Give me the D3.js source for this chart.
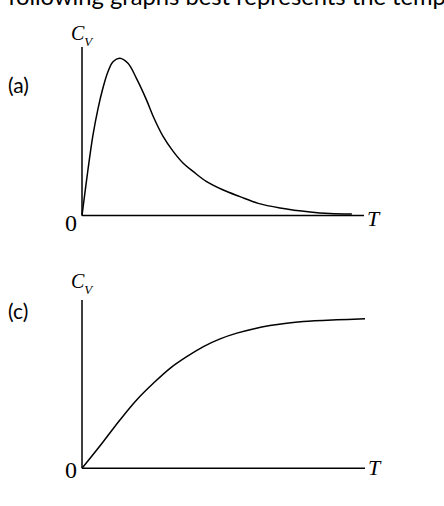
<!DOCTYPE html>
<html>
<head>
  <meta charset="utf-8">
  <title>Cv vs T</title>
  <style>
    body { margin: 0; background: #fff; }
    svg { display: block; }
    .axis-line { stroke: #000; stroke-width: 1.5; }
    .curve { fill: none; stroke: #000; stroke-width: 1.5; }
    .serif { font-family: "Liberation Serif", "DejaVu Serif", serif; fill: #000; }
    .sans { font-family: Lato, "Open Sans", sans-serif; fill: #000; }
  </style>
</head>
<body>
<script src="https://cdn.jsdelivr.net/npm/d3@7"></script>
<script>
  const width = 444;
  const height = 506;

  // T and Cv both in 0..100 units
  const tA  = [0, 2.1, 3.9, 5.7, 7.4, 9.2, 11.0, 13.4, 16.3, 19.3, 22.9, 25.3, 28.8, 32.4, 35.9, 39.5, 44.2, 50.1, 56.0, 62.5, 70.2, 80.9, 87.9, 95.7];
  const cvA = [0, 27.0, 47.8, 63.6, 75.5, 85.3, 91.3, 93.3, 90.3, 81.4, 68.5, 58.6, 46.8, 37.9, 31.0, 26.0, 20.1, 15.1, 11.2, 7.2, 4.5, 2.1, 1.2, 0.9];

  const tC  = [0, 7.5, 13.4, 19.3, 25.2, 31.1, 37.0, 42.9, 48.8, 54.7, 60.5, 66.4, 72.3, 78.2, 90.0, 100];
  const cvC = [0, 15.8, 28.7, 40.6, 50.5, 59.4, 66.3, 72.3, 76.9, 80.3, 82.8, 84.8, 86.2, 87.2, 88.2, 88.8];

  const headline = "following graphs best represents the temp";

  const panels = [
    { name: "(a)", t: tA, cv: cvA, x0: 82, x1: 364, y0: 215.5, y1: 47,
      labelY: 93, cY: 40, zeroY: 231, tY: 226 },
    { name: "(c)", t: tC, cv: cvC, x0: 82, x1: 365, y0: 468.3, y1: 300,
      labelY: 319, cY: 288, zeroY: 478, tY: 475 }
  ];

  const svg = d3.select("body").append("svg")
    .attr("width", width)
    .attr("height", height);

  // clipped question text at the very top
  const head = svg.append("text")
    .attr("class", "sans")
    .attr("x", 8)
    .attr("y", 5)
    .attr("font-size", 20)
    .text(headline);
  const len = head.node().getComputedTextLength();
  head.attr("font-size", 20 * 438 / len);

  panels.forEach(p => {
    const x = d3.scaleLinear().domain([0, 100]).range([p.x0, p.x1]);
    const y = d3.scaleLinear().domain([0, 100]).range([p.y0, p.y1]);
    const g = svg.append("g");

    g.append("line").attr("class", "axis-line")
      .attr("x1", x(0)).attr("x2", x(0))
      .attr("y1", y(0)).attr("y2", y(100));
    g.append("line").attr("class", "axis-line")
      .attr("x1", x(0)).attr("x2", x(100))
      .attr("y1", y(0)).attr("y2", y(0));

    const pts = p.t.map((t, i) => [t, p.cv[i]]);
    const line = d3.line()
      .x(d => x(d[0]))
      .y(d => y(d[1]))
      .curve(d3.curveCatmullRom.alpha(0.5));
    g.append("path").attr("class", "curve").attr("d", line(pts));

    g.append("text").attr("class", "sans")
      .attr("x", 8).attr("y", p.labelY)
      .attr("font-size", 21)
      .text(p.name);

    g.append("text").attr("class", "serif")
      .attr("x", x(0) - 5).attr("y", p.zeroY)
      .attr("text-anchor", "end")
      .attr("font-size", 24)
      .text("0");

    g.append("text").attr("class", "serif")
      .attr("x", x(100) + 3).attr("y", p.tY)
      .attr("font-size", 22)
      .attr("font-style", "italic")
      .text("T");

    const cv = g.append("text").attr("class", "serif")
      .attr("x", x(0) - 11).attr("y", p.cY)
      .attr("font-size", 20)
      .attr("font-style", "italic");
    cv.append("tspan").text("C");
    cv.append("tspan")
      .attr("font-size", 13)
      .attr("dy", 6)
      .text("V");
  });
</script>
</body>
</html>
